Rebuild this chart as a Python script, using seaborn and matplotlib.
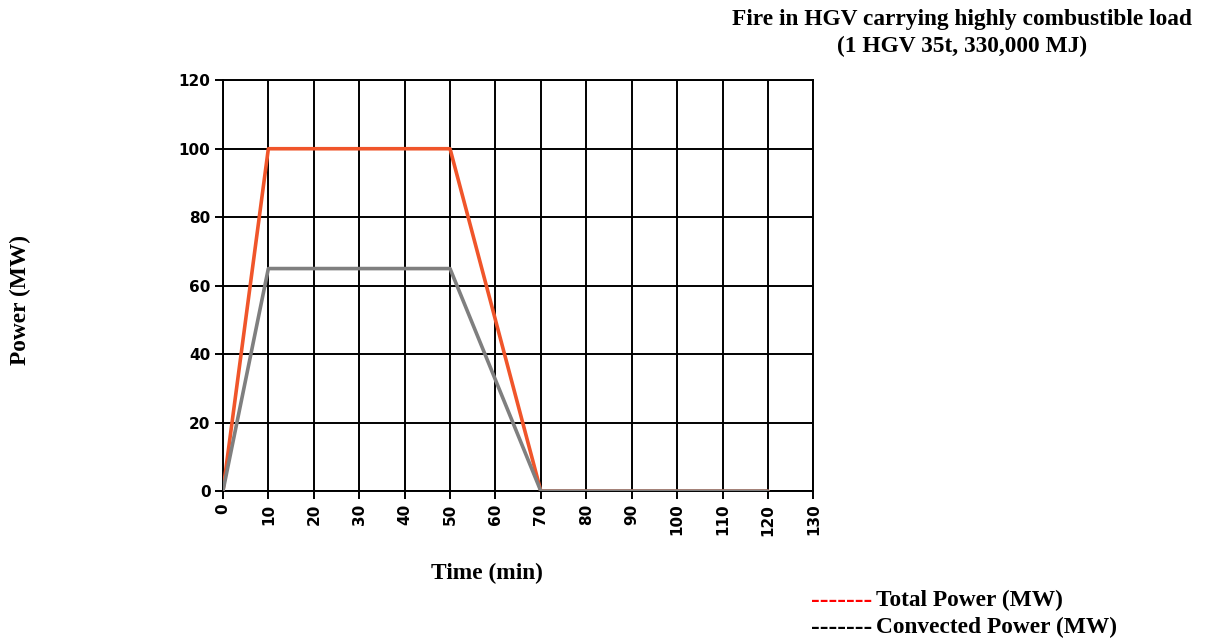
import pandas as pd
import matplotlib.pyplot as plt
import seaborn as sns

# Data
time_min = [0, 10, 50, 70, 120]
total_power = [0, 100, 100, 0, 0]
convected_power = [0, 65, 65, 0, 0]

x_ticks = list(range(0, 140, 10))
y_ticks = list(range(0, 140, 20))

df = pd.DataFrame({
    'Time (min)': time_min * 2,
    'Power (MW)': total_power + convected_power,
    'Series': ['Total Power (MW)'] * len(time_min) + ['Convected Power (MW)'] * len(time_min),
})

sns.set_theme(style='white')
serif = ['Liberation Serif', 'DejaVu Serif']
plt.rcParams['text.color'] = 'black'

fig = plt.figure(figsize=(12.05, 6.42), dpi=100)
ax = fig.add_axes([0.185, 0.235, 0.49, 0.64])

sns.lineplot(data=df, x='Time (min)', y='Power (MW)', hue='Series',
             palette={'Total Power (MW)': '#f0552a', 'Convected Power (MW)': '#7f7f7f'},
             linewidth=2.6, legend=False, ax=ax, zorder=3)

ax.set_xlim(0, 130)
ax.set_ylim(0, 120)
ax.set_xticks(x_ticks)
ax.set_yticks(y_ticks)
ax.grid(True, color='black', linewidth=1.4)
for s in ax.spines.values():
    s.set_color('black')
    s.set_linewidth(1.4)
ax.tick_params(axis='both', direction='out', length=6, width=1.4, color='black',
               labelsize=11, pad=3, labelcolor='black')
ax.tick_params(axis='x', bottom=True, labelrotation=90)
ax.tick_params(axis='y', left=True)
for lab in ax.get_xticklabels() + ax.get_yticklabels():
    lab.set_fontweight('bold')

ax.set_xlabel('')
ax.set_ylabel('')

fs = 16.8
fig.text(0.404, 0.107, 'Time (min)', family=serif, fontsize=fs, fontweight='bold',
         ha='center', va='center', color='black')
fig.text(0.017, 0.533, 'Power (MW)', family=serif, fontsize=fs, fontweight='bold',
         ha='center', va='center', rotation=90, color='black')
fig.text(0.798, 0.969, 'Fire in HGV carrying highly combustible load',
         family=serif, fontsize=fs, fontweight='bold', ha='center', va='center', color='black')
fig.text(0.798, 0.927, '(1 HGV 35t, 330,000 MJ)',
         family=serif, fontsize=fs, fontweight='bold', ha='center', va='center', color='black')

# legend drawn as text, like the original
fig.text(0.673, 0.064, '-------', family=serif, fontsize=18.5, fontweight='bold',
         color='red', ha='left', va='center')
fig.text(0.727, 0.064, 'Total Power (MW)', family=serif, fontsize=fs, fontweight='bold',
         ha='left', va='center', color='black')
fig.text(0.673, 0.022, '-------', family=serif, fontsize=18.5, fontweight='bold',
         color='black', ha='left', va='center')
fig.text(0.727, 0.022, 'Convected Power (MW)', family=serif, fontsize=fs, fontweight='bold',
         ha='left', va='center', color='black')

fig.savefig('out.png', dpi=100)
